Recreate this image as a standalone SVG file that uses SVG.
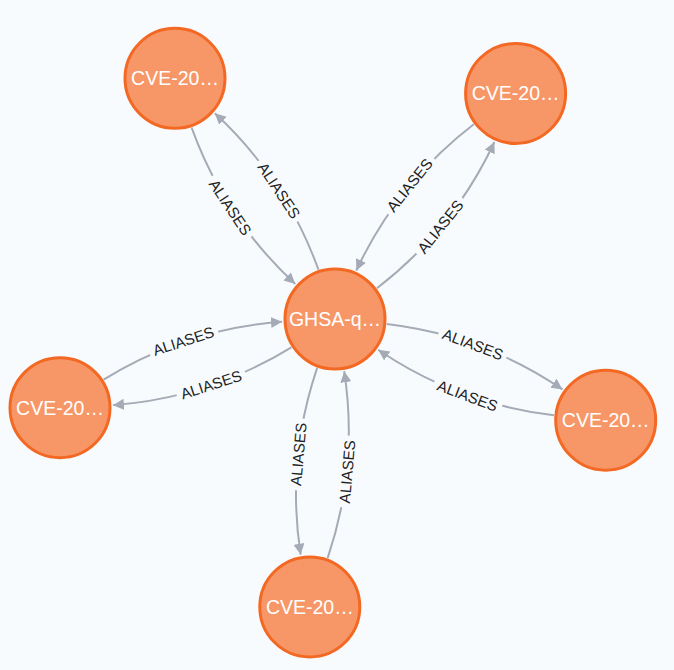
<svg xmlns="http://www.w3.org/2000/svg" width="674" height="670" viewBox="0 0 674 670">
<style>
.node circle{fill:#F79767;stroke:#F36924;stroke-width:3}
.node text{fill:#ffffff;font-family:"Liberation Sans",Arial,sans-serif;font-size:19.5px;text-anchor:middle}
.edge{fill:none;stroke:#A5ABB6;stroke-width:2;marker-end:url(#arrow)}
.lbl rect{fill:#F8FBFD}
.lbl text{fill:#222222;font-family:"Liberation Sans",Arial,sans-serif;font-size:15.2px;text-anchor:middle}
</style>
<defs>
<marker id="arrow" markerUnits="userSpaceOnUse" markerWidth="14" markerHeight="14" refX="11" refY="5.5" orient="auto">
<path d="M0,0 L11,5.5 L0,11 z" fill="#A5ABB6"/>
</marker>
</defs>
<rect x="0" y="0" width="674" height="670" fill="#F8FBFD"/>
<g id="connectors">
<!-- pair TL: out +y, in -y -->
<g transform="translate(335,319) rotate(-123.6)">
<path class="edge" d="M50.2 13.5 Q144.5 36.5 237.8 13.7"/>
<path class="edge" d="M238.8 -13.5 Q144.5 -36.5 51.2 -13.7"/>
<g class="lbl" transform="translate(138,24.5) rotate(180)"><rect x="-36" y="-8" width="72" height="16"/><text dy="0.35em">ALIASES</text></g>
<g class="lbl" transform="translate(151,-25.5) rotate(180)"><rect x="-36" y="-8" width="72" height="16"/><text dy="0.35em">ALIASES</text></g>
</g>
<!-- pair TR: out +y, in -y -->
<g transform="translate(335,319) rotate(-51.3)">
<path class="edge" d="M50.2 13.5 Q144.5 36.5 237.8 13.7"/>
<path class="edge" d="M238.8 -13.5 Q144.5 -36.5 51.2 -13.7"/>
<g class="lbl" transform="translate(138,24.5)"><rect x="-36" y="-8" width="72" height="16"/><text dy="0.35em">ALIASES</text></g>
<g class="lbl" transform="translate(151,-25.5)"><rect x="-36" y="-8" width="72" height="16"/><text dy="0.35em">ALIASES</text></g>
</g>
<!-- pair L: out -y, in +y -->
<g transform="translate(335,319) rotate(162.1)">
<path class="edge" d="M50.2 -13.5 Q144.5 -36.5 237.8 -13.7"/>
<path class="edge" d="M238.8 13.5 Q144.5 36.5 51.2 13.7"/>
<g class="lbl" transform="translate(151,25.5) rotate(180)"><rect x="-36" y="-8" width="72" height="16"/><text dy="0.35em">ALIASES</text></g>
<g class="lbl" transform="translate(138,-24.5) rotate(180)"><rect x="-36" y="-8" width="72" height="16"/><text dy="0.35em">ALIASES</text></g>
</g>
<!-- pair R: out -y, in +y -->
<g transform="translate(335,319) rotate(20.5)">
<path class="edge" d="M50.2 -13.5 Q144.5 -36.5 237.8 -13.7"/>
<path class="edge" d="M238.8 13.5 Q144.5 36.5 51.2 13.7"/>
<g class="lbl" transform="translate(151,25.5)"><rect x="-36" y="-8" width="72" height="16"/><text dy="0.35em">ALIASES</text></g>
<g class="lbl" transform="translate(138,-24.5)"><rect x="-36" y="-8" width="72" height="16"/><text dy="0.35em">ALIASES</text></g>
</g>
<!-- pair B: out +y, in -y -->
<g transform="translate(335,319) rotate(95)">
<path class="edge" d="M50.2 13.5 Q144.5 36.5 237.8 13.7"/>
<path class="edge" d="M238.8 -13.5 Q144.5 -36.5 51.2 -13.7"/>
<g class="lbl" transform="translate(138,24.5) rotate(180)"><rect x="-36" y="-8" width="72" height="16"/><text dy="0.35em">ALIASES</text></g>
<g class="lbl" transform="translate(151,-25.5) rotate(180)"><rect x="-36" y="-8" width="72" height="16"/><text dy="0.35em">ALIASES</text></g>
</g>
</g>
<g id="node-ghsa" class="node"><circle cx="335" cy="319" r="50"/><text x="335" y="319" dy="0.35em">GHSA-q…</text></g>
<g id="node-cve-tl" class="node"><circle cx="175" cy="78.3" r="50"/><text x="175" y="78.3" dy="0.35em">CVE-20…</text></g>
<g id="node-cve-tr" class="node"><circle cx="515.6" cy="93.4" r="50"/><text x="515.6" y="93.4" dy="0.35em">CVE-20…</text></g>
<g id="node-cve-l" class="node"><circle cx="60" cy="407.7" r="50"/><text x="60" y="407.7" dy="0.35em">CVE-20…</text></g>
<g id="node-cve-r" class="node"><circle cx="605.7" cy="420.2" r="50"/><text x="605.7" y="420.2" dy="0.35em">CVE-20…</text></g>
<g id="node-cve-b" class="node"><circle cx="309.8" cy="606.9" r="50"/><text x="309.8" y="606.9" dy="0.35em">CVE-20…</text></g>
</svg>
